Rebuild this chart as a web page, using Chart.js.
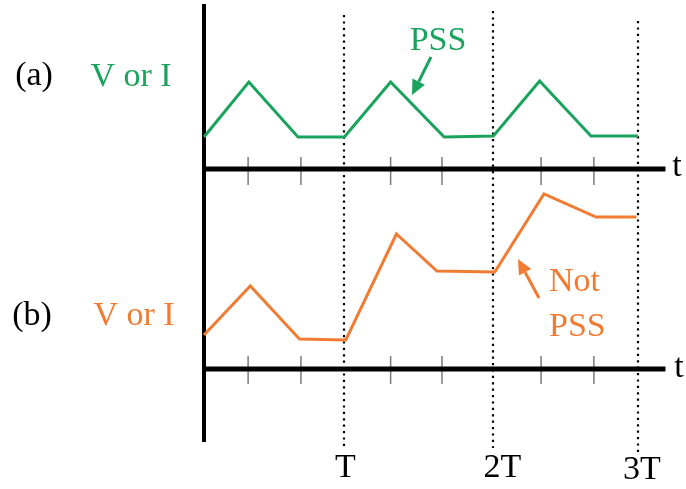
<!DOCTYPE html>
<html>
<head>
<meta charset="utf-8">
<script src="https://cdn.jsdelivr.net/npm/chart.js@4/dist/chart.umd.min.js"></script>
<style>
  html, body { margin: 0; padding: 0; background: #ffffff; }
  canvas { display: block; }
</style>
</head>
<body>
<canvas id="c" width="686" height="489"></canvas>
<script>
// ---- data (time in units of period T, signal in arbitrary units above each baseline) ----
const timeA   = [0, 0.31, 0.65, 0.97, 1.29, 1.66, 2.0, 2.32, 2.675, 3.0];
const valuesA = [3.2, 8.7, 3.2, 3.2, 8.7, 3.2, 3.3, 8.8, 3.3, 3.3];   // (a) PSS
const timeB   = [0, 0.32, 0.66, 0.98, 1.33, 1.61, 2.01, 2.35, 2.71, 2.99];
const valuesB = [3.4, 8.3, 3.0, 2.9, 13.5, 9.8, 9.7, 17.5, 15.2, 15.2]; // (b) not PSS
const periodTicks  = [0.97, 2.0, 3.0];
const periodLabels = ['T', '2T', '3T'];
const minorTicks   = [0.305, 0.67, 1.29, 1.645, 2.33, 2.695];

const GREEN = '#1aa35c';
const ORANGE = '#f07c34';
const SERIF = '"Liberation Serif", "Times New Roman", Tinos, serif';

const ptsA = timeA.map((t, i) => ({ x: t, y: valuesA[i] }));
const ptsB = timeB.map((t, i) => ({ x: t, y: valuesB[i] }));

function arrow(ctx, x1, y1, x2, y2, color) {
  const ang = Math.atan2(y2 - y1, x2 - x1);
  const hl = 15, hw = 7;
  const bx = x2 - hl * Math.cos(ang), by = y2 - hl * Math.sin(ang);
  ctx.save();
  ctx.strokeStyle = color; ctx.fillStyle = color; ctx.lineWidth = 3;
  ctx.beginPath(); ctx.moveTo(x1, y1); ctx.lineTo(bx, by); ctx.stroke();
  ctx.beginPath();
  ctx.moveTo(x2, y2);
  ctx.lineTo(bx + hw * Math.sin(ang), by - hw * Math.cos(ang));
  ctx.lineTo(bx - hw * Math.sin(ang), by + hw * Math.cos(ang));
  ctx.closePath(); ctx.fill();
  ctx.restore();
}

const decor = {
  id: 'decor',
  beforeDatasetsDraw(chart) {
    const ctx = chart.ctx;
    const x = chart.scales.x, ya = chart.scales.ya, yb = chart.scales.yb;
    const x0 = x.getPixelForValue(0);
    const baseA = ya.getPixelForValue(0), baseB = yb.getPixelForValue(0);
    const xEnd = x.getPixelForValue(3.19);
    ctx.save();
    // dotted period lines
    ctx.strokeStyle = '#000'; ctx.lineWidth = 2.2; ctx.setLineDash([2.2, 4.2]);
    const tops = [15, 11, 21], bots = [448, 448, 452];
    periodTicks.forEach((p, i) => {
      const px = Math.round(x.getPixelForValue(p));
      ctx.beginPath(); ctx.moveTo(px, tops[i]); ctx.lineTo(px, bots[i]); ctx.stroke();
    });
    ctx.setLineDash([]);
    // minor ticks
    ctx.strokeStyle = '#7a7a7a'; ctx.lineWidth = 1.5;
    minorTicks.forEach(t => {
      const px = x.getPixelForValue(t);
      ctx.beginPath(); ctx.moveTo(px, baseA - 12); ctx.lineTo(px, baseA + 16); ctx.stroke();
      ctx.beginPath(); ctx.moveTo(px, baseB - 13); ctx.lineTo(px, baseB + 15); ctx.stroke();
    });
    // axes
    ctx.strokeStyle = '#000'; ctx.lineWidth = 5;
    ctx.beginPath(); ctx.moveTo(x0 - 2, baseA); ctx.lineTo(xEnd, baseA); ctx.stroke();
    ctx.beginPath(); ctx.moveTo(x0 - 2, baseB); ctx.lineTo(xEnd, baseB); ctx.stroke();
    ctx.lineWidth = 4;
    ctx.beginPath(); ctx.moveTo(x0, chart.chartArea.top); ctx.lineTo(x0, chart.chartArea.bottom); ctx.stroke();
    ctx.restore();
  },
  afterDatasetsDraw(chart) {
    const ctx = chart.ctx;
    const x = chart.scales.x, ya = chart.scales.ya, yb = chart.scales.yb;
    const baseA = ya.getPixelForValue(0), baseB = yb.getPixelForValue(0);
    ctx.save();
    ctx.font = '34px ' + SERIF;
    ctx.textBaseline = 'middle';
    ctx.textAlign = 'center';
    ctx.fillStyle = '#000';
    ctx.fillText('(a)', 34, 76);
    ctx.fillText('(b)', 32, 316);
    ctx.fillText('t', 677, baseA - 2);
    ctx.fillText('t', 679, baseB - 1);
    const labY = [468, 468, 470];
    const labOff = [1, 9, 4];
    periodTicks.forEach((p, i) => {
      ctx.fillText(periodLabels[i], x.getPixelForValue(p) + labOff[i], labY[i]);
    });
    ctx.fillStyle = GREEN;
    ctx.fillText('V or I', 131, 77);
    ctx.fillText('PSS', 438, 41);
    ctx.fillStyle = ORANGE;
    ctx.fillText('V or I', 134, 316);
    ctx.textAlign = 'left';
    ctx.fillText('Not', 549, 282);
    ctx.fillText('PSS', 549, 327);
    ctx.restore();
    arrow(ctx, 431, 57, 412, 95, GREEN);
    arrow(ctx, 539, 298, 518, 259, ORANGE);
  }
};

new Chart(document.getElementById('c'), {
  type: 'line',
  data: {
    datasets: [
      { data: ptsA, yAxisID: 'ya', borderColor: GREEN, borderWidth: 3, pointRadius: 0, tension: 0, fill: false, clip: 8 },
      { data: ptsB, yAxisID: 'yb', borderColor: ORANGE, borderWidth: 3, pointRadius: 0, tension: 0, fill: false, clip: 8 }
    ]
  },
  options: {
    responsive: false,
    animation: false,
    devicePixelRatio: 1,
    layout: { padding: { left: 204, right: 48, top: 4, bottom: 47 } },
    plugins: { legend: { display: false }, tooltip: { enabled: false } },
    scales: {
      x:  { type: 'linear', min: 0, max: 3, display: false },
      ya: { type: 'linear', min: -27.3, max: 16.5, display: false },
      yb: { type: 'linear', min: -7.3, max: 36.5, display: false }
    }
  },
  plugins: [decor]
});
</script>
</body>
</html>
